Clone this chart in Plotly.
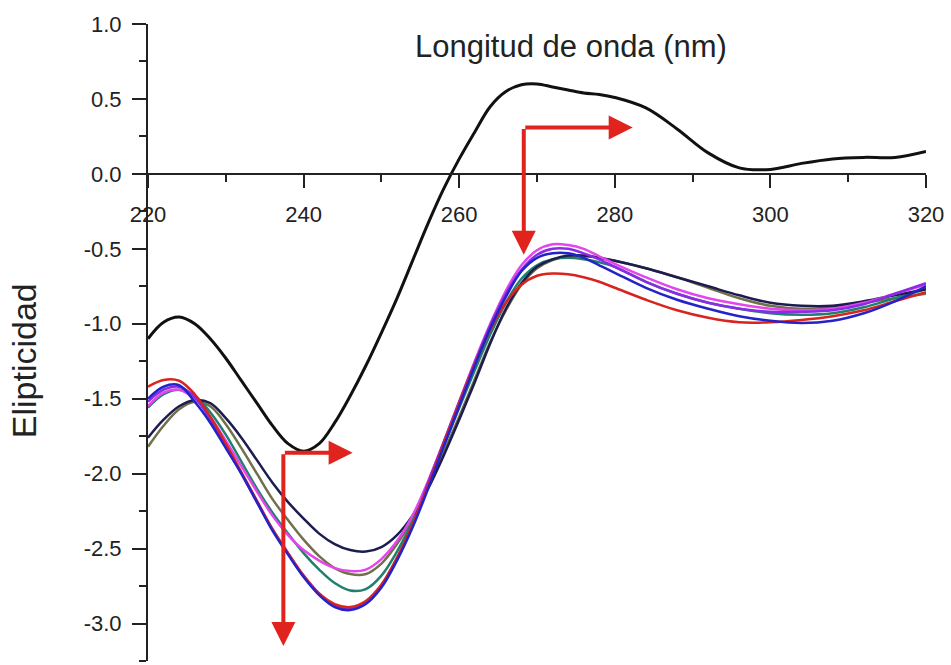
import plotly.graph_objects as go

# ---------------- data ----------------
wavelength = [220, 222, 224, 226, 228, 230, 232, 234, 236, 238, 240, 242, 244, 246, 248, 250,
              252, 254, 256, 258, 260, 262, 264, 266, 268, 270, 272, 274, 276, 278, 280,
              284, 288, 292, 296, 300, 304, 308, 312, 316, 320]

reference = [-1.10, -0.99, -0.955, -1.00, -1.10, -1.23, -1.38, -1.53, -1.68, -1.80, -1.85, -1.80,
             -1.66, -1.48, -1.28, -1.06, -0.83, -0.58, -0.33, -0.10, 0.10, 0.28, 0.45, 0.55,
             0.595, 0.60, 0.58, 0.56, 0.54, 0.53, 0.51, 0.44, 0.30, 0.14, 0.04, 0.03, 0.07,
             0.10, 0.11, 0.11, 0.15]

navy = [-1.76, -1.64, -1.55, -1.51, -1.53, -1.63, -1.76, -1.91, -2.06, -2.19, -2.30, -2.40,
        -2.47, -2.51, -2.52, -2.49, -2.41, -2.28, -2.10, -1.88, -1.64, -1.39, -1.13, -0.90,
        -0.73, -0.62, -0.57, -0.545, -0.545, -0.56, -0.58, -0.63, -0.69, -0.75, -0.81, -0.86,
        -0.88, -0.88, -0.85, -0.81, -0.77]

olive = [-1.82, -1.68, -1.57, -1.52, -1.55, -1.67, -1.83, -2.00, -2.17, -2.31, -2.44, -2.55,
         -2.63, -2.67, -2.67, -2.60, -2.47, -2.30, -2.09, -1.86, -1.62, -1.37, -1.12, -0.91,
         -0.74, -0.63, -0.575, -0.55, -0.55, -0.56, -0.58, -0.63, -0.69, -0.76, -0.83, -0.88,
         -0.90, -0.89, -0.86, -0.83, -0.80]

magenta = [-1.55, -1.46, -1.44, -1.50, -1.62, -1.78, -1.95, -2.12, -2.28, -2.41, -2.51, -2.58,
           -2.63, -2.65, -2.64, -2.57, -2.45, -2.28, -2.05, -1.79, -1.52, -1.25, -1.00, -0.78,
           -0.61, -0.51, -0.47, -0.475, -0.50, -0.55, -0.60, -0.69, -0.77, -0.83, -0.87, -0.90,
           -0.91, -0.90, -0.86, -0.80, -0.74]

teal = [-1.56, -1.47, -1.44, -1.48, -1.59, -1.74, -1.92, -2.10, -2.26, -2.40, -2.53, -2.64,
        -2.73, -2.78, -2.77, -2.68, -2.52, -2.32, -2.08, -1.82, -1.56, -1.31, -1.07, -0.86,
        -0.70, -0.61, -0.57, -0.56, -0.57, -0.59, -0.62, -0.72, -0.80, -0.86, -0.90, -0.93,
        -0.94, -0.93, -0.89, -0.83, -0.77]

blue = [-1.50, -1.42, -1.41, -1.52, -1.66, -1.83, -2.00, -2.19, -2.38, -2.54, -2.69, -2.81,
        -2.89, -2.91, -2.87, -2.76, -2.58, -2.36, -2.10, -1.82, -1.55, -1.28, -1.03, -0.82,
        -0.65, -0.56, -0.53, -0.53, -0.56, -0.61, -0.66, -0.76, -0.84, -0.90, -0.95, -0.98,
        -0.995, -0.98, -0.93, -0.85, -0.75]

purple = [-1.52, -1.44, -1.42, -1.49, -1.64, -1.82, -2.00, -2.19, -2.37, -2.53, -2.68, -2.80,
          -2.88, -2.90, -2.86, -2.75, -2.57, -2.35, -2.06, -1.79, -1.52, -1.26, -1.01, -0.80,
          -0.64, -0.54, -0.50, -0.50, -0.53, -0.57, -0.62, -0.72, -0.80, -0.86, -0.90, -0.92,
          -0.92, -0.91, -0.87, -0.80, -0.73]

red = [-1.42, -1.375, -1.38, -1.47, -1.62, -1.80, -1.99, -2.18, -2.37, -2.53, -2.68, -2.80,
       -2.87, -2.89, -2.85, -2.74, -2.56, -2.34, -2.08, -1.80, -1.53, -1.27, -1.04, -0.86,
       -0.74, -0.68, -0.665, -0.67, -0.69, -0.72, -0.76, -0.84, -0.91, -0.96, -0.99, -0.99,
       -0.975, -0.95, -0.91, -0.85, -0.79]

series = [
    ("olive", olive, "#70704a"),
    ("teal", teal, "#1f806e"),
    ("navy", navy, "#1c1c50"),
    ("magenta", magenta, "#e445ec"),
    ("purple", purple, "#8a2be6"),
    ("red", red, "#d8231e"),
    ("blue", blue, "#2323c8"),
]

x_ticks = [220, 240, 260, 280, 300, 320]
x_ticktext = ["220", "240", "260", "280", "300", "320"]
y_ticks = [1.0, 0.5, 0.0, -0.5, -1.0, -1.5, -2.0, -2.5, -3.0]
y_ticktext = ["1.0", "0.5", "0.0", "-0.5", "-1.0", "-1.5", "-2.0", "-2.5", "-3.0"]

x_range = [220, 320]
y_range = [-3.25, 1.0]

# arrows: (tail_x, tail_y, tip_x, tip_y)
arrows = [
    (268.3, 0.31, 268.3, -0.54),
    (268.3, 0.31, 282.3, 0.31),
    (237.4, -1.86, 237.4, -3.15),
    (237.4, -1.86, 246.3, -1.86),
]
arrow_color = "#e0231d"

font_family = "Arial, Liberation Sans, sans-serif"

fig = go.Figure()

for name, vals, col in series:
    fig.add_trace(go.Scatter(x=wavelength, y=vals, mode="lines", name=name,
                             line=dict(color=col, width=2.5, shape="spline", smoothing=1.0)))

fig.add_trace(go.Scatter(x=wavelength, y=reference, mode="lines", name="reference",
                         line=dict(color="#111111", width=3, shape="spline", smoothing=1.0)))

for tx, ty, hx, hy in arrows:
    fig.add_annotation(x=hx, y=hy, ax=tx, ay=ty, xref="x", yref="y", axref="x", ayref="y",
                       text="", showarrow=True, arrowhead=2, arrowsize=1.2, arrowwidth=4,
                       arrowcolor=arrow_color, standoff=0, startstandoff=0)

# title & y label
fig.add_annotation(x=274.4, y=0.85, xref="x", yref="y", text="Longitud de onda (nm)",
                   showarrow=False, font=dict(family=font_family, size=31, color="#222"))
fig.add_annotation(x=0, y=-1.25, xref="paper", yref="y", xshift=-145,
                   text="Elipticidad", textangle=-90, showarrow=False,
                   font=dict(family=font_family, size=34, color="#222"))

zero_pos = (0 - y_range[0]) / (y_range[1] - y_range[0])

fig.update_layout(
    width=951, height=665,
    margin=dict(l=148, r=25, t=24, b=4),
    paper_bgcolor="white", plot_bgcolor="white",
    showlegend=False,
    xaxis=dict(range=x_range, tickvals=x_ticks, ticktext=x_ticktext,
               showgrid=False, zeroline=False, showline=True, linecolor="#222",
               linewidth=2, ticks="outside", ticklen=13, tickwidth=2, tickcolor="#222",
               anchor="free", position=zero_pos, ticklabelstandoff=8,
               minor=dict(tickvals=[230, 250, 270, 290, 310], ticks="outside", ticklen=7,
                          tickwidth=2, tickcolor="#222"),
               tickfont=dict(family=font_family, size=22, color="#222")),
    yaxis=dict(range=y_range, tickvals=y_ticks, ticktext=y_ticktext,
               showgrid=False, zeroline=False, showline=True, linecolor="#222",
               linewidth=2, ticks="outside", ticklen=14, tickwidth=2, tickcolor="#222",
               ticklabelstandoff=6,
               minor=dict(tickvals=[0.75, 0.25, -0.25, -0.75, -1.25, -1.75, -2.25, -2.75, -3.25],
                          ticks="outside", ticklen=7, tickwidth=2, tickcolor="#222"),
               tickfont=dict(family=font_family, size=22, color="#222")),
)

fig.write_html("out.html")
